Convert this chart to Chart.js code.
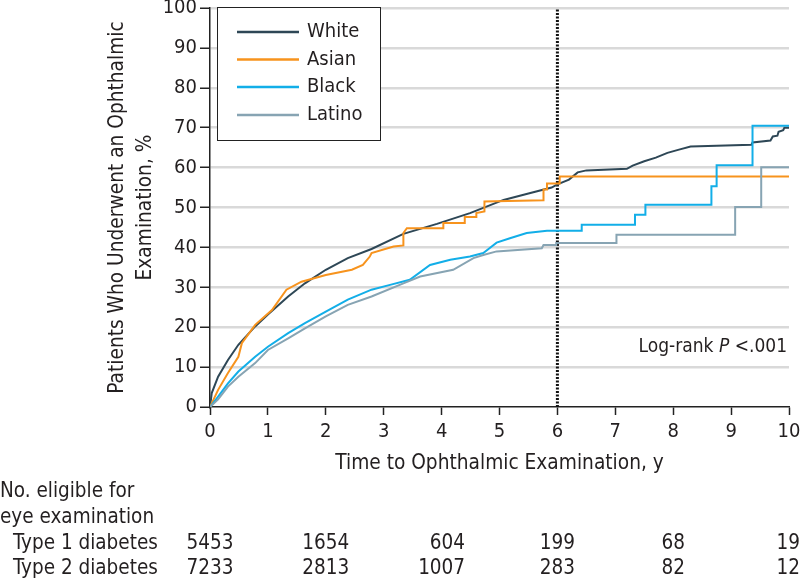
<!DOCTYPE html>
<html>
<head>
<meta charset="utf-8">
<script src="https://cdn.jsdelivr.net/npm/chart.js@4"></script>
<style>
  html, body { margin: 0; padding: 0; background: #fff; }
</style>
</head>
<body>
<canvas id="kmChart" width="800" height="581"></canvas>
<script>
// values (years, % examined)
const whiteTime = [0, 0.03, 0.14, 0.31, 0.49, 0.78, 1.0, 1.35, 1.64, 2.0, 2.38, 2.79, 3.34, 3.92, 4.49, 5.07, 5.5, 5.9, 6.0, 6.2, 6.35, 6.5, 7.2, 7.3, 7.5, 7.7, 7.9, 8.1, 8.3, 9.35, 9.37, 9.68, 9.72, 9.8, 9.82, 9.9, 9.92, 10];
const whitePct  = [0, 3.5, 7.6, 11.8, 15.6, 20.2, 23.2, 27.7, 31, 34.4, 37.3, 39.6, 43.4, 45.9, 48.6, 51.9, 53.5, 55, 55.8, 57, 58.8, 59.3, 59.7, 60.5, 61.6, 62.5, 63.7, 64.5, 65.3, 65.7, 66.3, 66.8, 67.8, 68, 69, 69.4, 70, 70];

const asianTime = [0, 0.14, 0.31, 0.49, 0.55, 0.78, 1.07, 1.32, 1.58, 2.0, 2.45, 2.64, 2.76, 2.79, 3.17, 3.34, 3.34, 3.4, 4.03, 4.03, 4.4, 4.4, 4.6, 4.6, 4.74, 4.74, 5.76, 5.76, 5.82, 5.82, 6.04, 6.04, 10];
const asianPct  = [0, 4.3, 8.5, 12.6, 16, 20.6, 24.3, 29.4, 31.4, 33.1, 34.4, 35.6, 37.7, 38.6, 40.2, 40.5, 43.6, 44.8, 44.8, 46.1, 46.1, 47.6, 47.6, 48.6, 49, 51.5, 51.8, 54.5, 54.5, 56, 56, 57.8, 57.8];

const blackTime = [0, 0.14, 0.31, 0.49, 0.78, 1.0, 1.35, 1.64, 2.0, 2.38, 2.79, 3.11, 3.45, 3.8, 4.15, 4.49, 4.72, 4.81, 4.95, 5.18, 5.47, 5.82, 6.42, 6.42, 7.34, 7.34, 7.52, 7.52, 8.66, 8.66, 8.75, 8.75, 9.37, 9.37, 10];
const blackPct  = [0, 2.6, 5.9, 8.9, 12.6, 15.1, 18.5, 21, 23.9, 26.9, 29.4, 30.6, 31.9, 35.6, 36.9, 37.7, 38.6, 39.6, 41.2, 42.3, 43.6, 44.2, 44.2, 45.7, 45.7, 48.2, 48.2, 50.7, 50.7, 55.3, 55.3, 60.6, 60.6, 70.5, 70.5];

const latinoTime = [0, 0.14, 0.31, 0.49, 0.78, 1.0, 1.35, 1.64, 2.0, 2.38, 2.79, 3.34, 3.63, 4.2, 4.55, 4.72, 4.95, 5.73, 5.76, 5.98, 5.98, 7.02, 7.02, 9.07, 9.07, 9.52, 9.52, 10];
const latinoPct  = [0, 1.9, 5.1, 7.6, 11, 14.3, 17.2, 19.7, 22.7, 25.6, 27.7, 31, 32.7, 34.4, 37.3, 38.1, 39, 39.8, 40.6, 40.6, 41.1, 41.1, 43.2, 43.2, 50.1, 50.1, 60.1, 60.1];

const groupNames = ['White', 'Asian', 'Black', 'Latino'];
const groupColors = ['#2e4756', '#f7931d', '#12aee8', '#87a4b3'];
const cutoffYear = 6;

// number at risk table
const riskYears = [0, 2, 4, 6, 8, 10];
const type1AtRisk = [5453, 1654, 604, 199, 68, 19];
const type2AtRisk = [7233, 2813, 1007, 283, 82, 12];

const fontFamily = '"DejaVu Sans Condensed", "DejaVu Sans", sans-serif';
const textColor = '#231f20';

Chart.defaults.font.family = fontFamily;
Chart.defaults.color = textColor;

const toPoints = (xs, ys) => xs.map((x, i) => ({ x: x, y: ys[i] }));
const curves = [
  toPoints(whiteTime, whitePct),
  toPoints(asianTime, asianPct),
  toPoints(blackTime, blackPct),
  toPoints(latinoTime, latinoPct)
];

// legend box, log-rank note and the at-risk table
const extras = {
  id: 'extras',
  afterDraw(chart) {
    const ctx = chart.ctx;
    const xs = chart.scales.x;
    const area = chart.chartArea;
    ctx.save();

    // legend
    ctx.fillStyle = '#fff';
    ctx.fillRect(217.5, 7.5, 163, 133);
    ctx.strokeStyle = '#222';
    ctx.lineWidth = 1;
    ctx.strokeRect(217.5, 7.5, 163, 133);
    ctx.font = '20px ' + fontFamily;
    ctx.textBaseline = 'middle';
    ctx.textAlign = 'left';
    const rows = [32, 59.5, 87, 115];
    groupNames.forEach((name, i) => {
      ctx.strokeStyle = groupColors[i];
      ctx.lineWidth = 2.5;
      ctx.beginPath();
      ctx.moveTo(237, rows[i]);
      ctx.lineTo(299, rows[i]);
      ctx.stroke();
      ctx.fillStyle = textColor;
      ctx.fillText(name, 307, rows[i]);
    });

    // log-rank note
    ctx.font = '19px ' + fontFamily;
    const part1 = 'Log-rank ';
    const part3 = ' <.001';
    const w1 = ctx.measureText(part1).width;
    const w3 = ctx.measureText(part3).width;
    ctx.font = 'italic 19px ' + fontFamily;
    const w2 = ctx.measureText('P').width;
    const px = area.right - 2 - (w1 + w2 + w3);
    const py = 347;
    ctx.font = '19px ' + fontFamily;
    ctx.fillText(part1, px, py);
    ctx.font = 'italic 19px ' + fontFamily;
    ctx.fillText('P', px + w1, py);
    ctx.font = '19px ' + fontFamily;
    ctx.fillText(part3, px + w1 + w2, py);

    // at-risk table
    ctx.font = '20.5px ' + fontFamily;
    ctx.fillText('No. eligible for', 0, 492);
    ctx.fillText('eye examination', 0, 518);
    ctx.fillText('Type 1 diabetes', 13, 544);
    ctx.fillText('Type 2 diabetes', 13, 569);
    ctx.textAlign = 'right';
    riskYears.forEach((yr, i) => {
      const a = String(type1AtRisk[i]);
      const b = String(type2AtRisk[i]);
      const w = Math.max(ctx.measureText(a).width, ctx.measureText(b).width);
      const right = Math.min(xs.getPixelForValue(yr) + w / 2, 800);
      ctx.fillText(a, right, 544);
      ctx.fillText(b, right, 569);
    });
    ctx.restore();
  }
};

const datasets = curves.map((pts, i) => ({
  label: groupNames[i],
  data: pts,
  borderColor: groupColors[i],
  borderWidth: 2,
  pointRadius: 0,
  tension: 0,
  fill: false
}));
// reverse so White is painted on top
datasets.reverse();
datasets.push({
  label: 'cutoff',
  data: [{ x: cutoffYear, y: 0 }, { x: cutoffYear, y: 100 }],
  borderColor: '#111',
  borderWidth: 3,
  borderDash: [2, 1.5],
  pointRadius: 0
});

new Chart(document.getElementById('kmChart'), {
  type: 'line',
  data: { datasets: datasets },
  plugins: [extras],
  options: {
    responsive: false,
    animation: false,
    devicePixelRatio: 1,
    layout: { padding: { top: 8, right: 11, left: 0, bottom: 0 } },
    plugins: { legend: { display: false }, tooltip: { enabled: false } },
    scales: {
      x: {
        type: 'linear',
        min: 0,
        max: 10,
        ticks: { stepSize: 1, padding: 5, font: { size: 20 }, color: textColor, maxRotation: 0 },
        grid: { drawOnChartArea: false, tickLength: 8, tickColor: '#222', tickWidth: 1.5 },
        border: { color: '#222', width: 1.5 },
        title: {
          display: true,
          text: 'Time to Ophthalmic Examination, y',
          font: { size: 20.7 },
          color: textColor,
          padding: { top: 0, bottom: 105 }
        },
        afterFit(scale) {
          scale.height = 174;
          scale.paddingLeft = 0;
          scale.paddingRight = 0;
        }
      },
      y: {
        min: 0,
        max: 100,
        ticks: { stepSize: 10, padding: 3, font: { size: 20 }, color: textColor },
        grid: {
          color: (c) => c.tick && c.tick.value === 0 ? 'rgba(0,0,0,0)' : '#d9d9d9',
          lineWidth: 2.5,
          tickLength: 10,
          tickColor: '#222',
          tickWidth: 1.5
        },
        border: { color: '#222', width: 1.5 },
        title: {
          display: true,
          text: ['Patients Who Underwent an Ophthalmic', 'Examination, %'],
          font: { size: 20.7, lineHeight: 1.35 },
          color: textColor,
          padding: { top: 104, bottom: 0 }
        },
        afterFit(scale) {
          scale.width = 210;
          scale.paddingTop = 0;
          scale.paddingBottom = 0;
        }
      }
    }
  }
});
</script>
</body>
</html>
